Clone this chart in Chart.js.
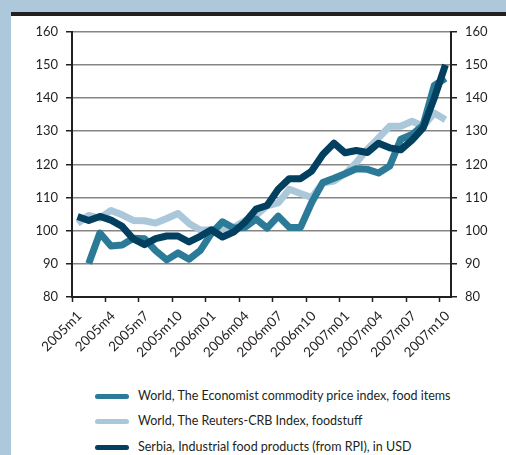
<!DOCTYPE html>
<html>
<head>
<meta charset="utf-8">
<script src="https://cdn.jsdelivr.net/npm/chart.js@4"></script>
<style>
  html, body { margin: 0; padding: 0; }
  body { width: 506px; height: 455px; background: #adc8da; position: relative; overflow: hidden; font-family: Lato, "Open Sans", sans-serif; }
  #bar { position: absolute; left: 11px; top: 12px; width: 495px; height: 4px; background: #231f20; }
  #panel { position: absolute; left: 11px; top: 16px; width: 495px; height: 439px; background: #ffffff; }
  #chart { position: absolute; left: 0; top: 0; }
  #legend { position: absolute; left: 84px; top: 370px; }
  .row { position: absolute; left: 0; height: 16px; white-space: nowrap; }
  .sw { position: absolute; left: 0; top: 6px; width: 34px; height: 5px; border-radius: 3px; }
  .tx { position: absolute; left: 43px; top: 0; font-size: 12.5px; line-height: 16px; color: #231f20; }
</style>
</head>
<body>
<div id="bar"></div>
<div id="panel">
  <canvas id="chart" width="495" height="365"></canvas>
  <div id="legend"></div>
</div>
<script>
// Monthly periods on the x axis
const months = [
  '2005m1','2005m2','2005m3','2005m4','2005m5','2005m6','2005m7','2005m8','2005m9','2005m10','2005m11','2005m12',
  '2006m01','2006m02','2006m03','2006m04','2006m05','2006m06','2006m07','2006m08','2006m09','2006m10','2006m11','2006m12',
  '2007m01','2007m02','2007m03','2007m04','2007m05','2007m06','2007m07','2007m08','2007m09','2007m10'
];

// Index values
const economistFood = [null, 90.1, 99.3, 95.4, 95.7, 97.7, 97.6, 94, 91.2, 93.3, 91.4, 94, 99.2, 102.7, 100.8, 101, 103.5, 100.8, 104.4, 101, 101, 108.5, 114.5, 115.8, 117.2, 118.7, 118.5, 117.4, 119.5, 127.6, 129, 131.8, 143.8, 146];
const reutersCrbFood = [102.2, 104.6, 103.8, 106.1, 104.8, 103.1, 103, 102.3, 103.7, 105.2, 102.2, 100.2, 100.3, 100.5, 101, 103, 104.6, 107.5, 108.4, 112.5, 111.2, 110, 114.4, 115, 117.2, 120.5, 124.6, 128, 131.5, 131.5, 133, 131.5, 135.5, 133.5];
const serbiaFoodUsd = [104.3, 103.1, 104.3, 103.2, 101.3, 97.5, 95.8, 97.6, 98.4, 98.4, 96.6, 98.3, 100.3, 98.1, 99.6, 102.5, 106.5, 107.6, 112.5, 115.7, 115.7, 118, 123, 126.4, 123.5, 124.2, 123.6, 126.4, 125, 124.4, 127.3, 131, 140, 150];

const seriesNames = [
  'World, The Economist commodity price index, food items',
  'World, The Reuters-CRB Index, foodstuff',
  'Serbia, Industrial food products (from RPI), in USD'
];
const seriesColors = ['#2b7b98', '#abc8da', '#033f5e'];
const seriesValues = [economistFood, reutersCrbFood, serbiaFoodUsd];
const drawOrder = [1, 2, 0];

const yTicks = { min: 80, max: 160, step: 10 };

const textColor = '#231f20';
const tickFont = { family: 'Lato', size: 13 };
const monthFont = { family: 'Lato', size: 13.5 };

const datasets = seriesNames.map((name, i) => ({
  label: name,
  data: seriesValues[i],
  borderColor: seriesColors[i],
  backgroundColor: seriesColors[i],
  borderWidth: 7,
  borderJoinStyle: 'round',
  pointRadius: 0,
  tension: 0,
  fill: false,
  spanGaps: false,
  order: drawOrder[i]
}));

const valueAxis = (position, width, gridOnArea) => ({
  position,
  min: yTicks.min,
  max: yTicks.max,
  ticks: { stepSize: yTicks.step, padding: 8, font: tickFont, color: textColor },
  grid: { drawOnChartArea: gridOnArea, color: '#858585', lineWidth: 1.5, tickColor: textColor, tickLength: 6, tickWidth: 1.5 },
  border: { color: textColor, width: 2 },
  afterFit: s => { s.width = width; }
});

new Chart(document.getElementById('chart'), {
  type: 'line',
  data: { labels: months, datasets },
  options: {
    responsive: false,
    animation: false,
    layout: { padding: { top: 14, left: 0, right: 0, bottom: 0 } },
    plugins: { legend: { display: false }, tooltip: { enabled: false } },
    scales: {
      x: {
        type: 'category',
        offset: true,
        grid: {
          offset: true,
          drawOnChartArea: false,
          tickLength: 5,
          tickWidth: 1.5,
          tickColor: c => (c.index % 3 === 0 ? textColor : 'rgba(0,0,0,0)')
        },
        border: { color: textColor, width: 2 },
        ticks: {
          autoSkip: false,
          minRotation: 45,
          maxRotation: 45,
          padding: 6,
          labelOffset: 2,
          font: monthFont,
          color: textColor,
          callback: (v, i) => (i % 3 === 0 ? months[i] : '')
        },
        afterFit: s => { s.height = 84; }
      },
      y: valueAxis('left', 61, true),
      y1: valueAxis('right', 55, false)
    }
  }
});

// Legend rows
const legend = document.getElementById('legend');
const rowTops = [2, 27, 53];
seriesNames.forEach((name, i) => {
  const row = document.createElement('div');
  row.className = 'row';
  row.style.top = rowTops[i] + 'px';
  const sw = document.createElement('div');
  sw.className = 'sw';
  sw.style.background = seriesColors[i];
  const tx = document.createElement('div');
  tx.className = 'tx';
  tx.textContent = name;
  row.appendChild(sw);
  row.appendChild(tx);
  legend.appendChild(row);
});
</script>
</body>
</html>
